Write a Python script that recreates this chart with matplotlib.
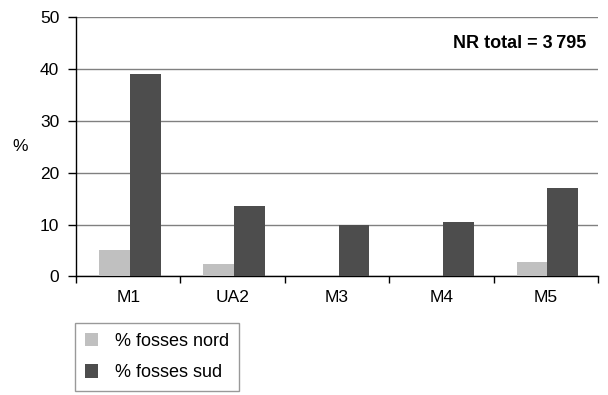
import numpy as np
import matplotlib.pyplot as plt

plt.rcParams['font.family'] = ['Liberation Sans', 'DejaVu Sans']

categories = ['M1', 'UA2', 'M3', 'M4', 'M5']
fosses_nord = [5.0, 2.4, 0.0, 0.0, 2.8]
fosses_sud = [39.0, 13.6, 9.9, 10.5, 17.0]
labels = ['% fosses nord', '% fosses sud']

fig = plt.figure(figsize=(6.08, 3.95), dpi=100)
ax = fig.add_axes([0.125, 0.3005, 0.8586, 0.6557])

x = np.arange(len(categories))
w = 0.295
ax.bar(x - w / 2 + 0.015, fosses_nord, w, color='#c0c0c0', label=labels[0], zorder=3)
ax.bar(x + w / 2 + 0.015, fosses_sud, w, color='#4d4d4d', label=labels[1], zorder=3)

ax.set_xlim(-0.5, len(categories) - 0.5)
ax.set_ylim(0, 50)
ax.set_yticks(range(0, 51, 10))
ax.set_xticks(x)
ax.set_xticklabels(categories)
ax.set_xticks(np.arange(-0.5, len(categories)), minor=True)
ax.tick_params(axis='x', which='major', length=0, pad=10, labelsize=12.5)
ax.tick_params(axis='x', which='minor', length=5, width=1, direction='out')
ax.tick_params(axis='y', length=6, width=1, pad=6, labelsize=12.5)

ax.yaxis.grid(True, color='#808080', linewidth=1)
for s in ('top', 'right'):
    ax.spines[s].set_visible(False)
ax.spines['left'].set_linewidth(1)
ax.spines['bottom'].set_linewidth(1)

ax.set_ylabel('%', rotation=0, fontsize=12.5, va='center', ha='center')
ax.yaxis.set_label_coords(-0.107, 0.5)

ax.text(0.977, 0.90, 'NR total = 3\u2009795', transform=ax.transAxes, ha='right', va='center',
        fontsize=13, fontweight='bold')

fig.legend(loc='upper left', bbox_to_anchor=(75 / 608, 1 - 323 / 395), fontsize=13,
           frameon=True, fancybox=False, edgecolor='#808080', handlelength=0.75, handleheight=0.75,
           borderpad=0.55, labelspacing=0.8, handletextpad=0.9, borderaxespad=0)

fig.savefig('out.png', dpi=100)
